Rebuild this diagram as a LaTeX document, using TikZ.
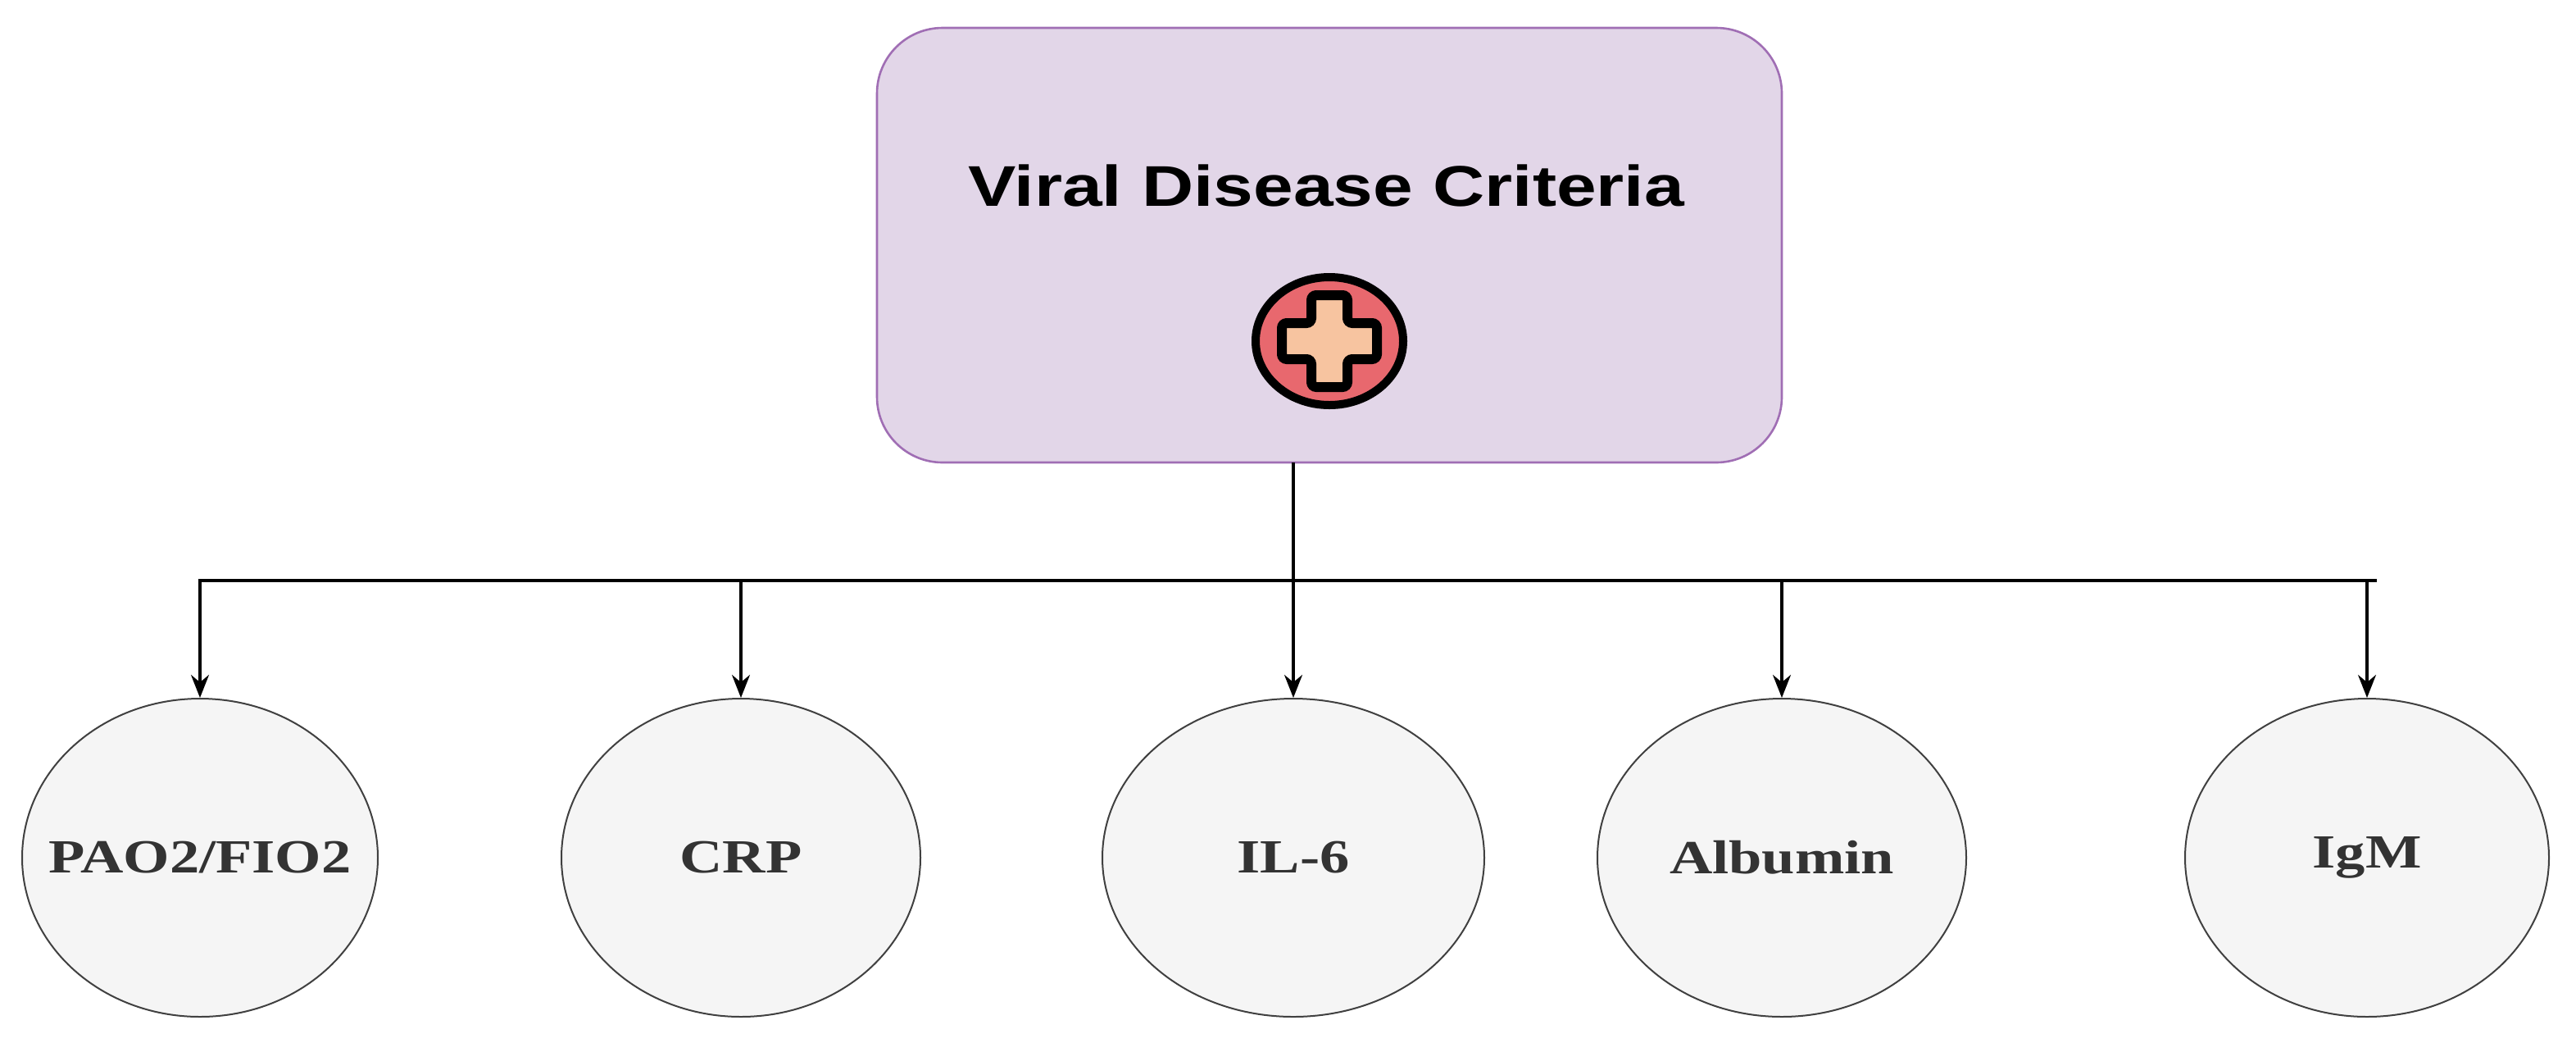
\documentclass[tikz,border=0pt]{standalone}
\usepackage{fontspec}
\setmainfont{Liberation Serif}
\newfontfamily\sansf{Liberation Sans}
\usetikzlibrary{arrows.meta,shapes.geometric}
\newcommand{\wide}[1]{\makebox[0pt]{\scalebox{1.25}[1]{#1}}}
\begin{document}
\begin{tikzpicture}[x=1pt,y=1pt,
  leaf/.style={ellipse,draw=black!75,line width=1pt,fill=black!4,minimum width=#1,minimum height=194pt,inner sep=0pt,font=\fontsize{29}{32}\selectfont\bfseries,text=black!80},
  arr/.style={-{Stealth[length=14pt,width=11pt]},line width=1.6pt}]
\useasboundingbox (0,0) rectangle (1571.5,-635.5);
\node[draw={rgb,255:red,160;green,110;blue,180},line width=1.3pt,fill={rgb,255:red,226;green,214;blue,232},rounded corners=40pt,minimum width=552pt,minimum height=265pt] (top) at (811,-149.5) {};
\node[font=\sansf\fontsize{35}{40}\selectfont\bfseries] (title) at (809,-113) {\wide{Viral Disease Criteria}};
\node[ellipse,draw=black,line width=5pt,fill={rgb,255:red,232;green,104;blue,110},minimum width=90pt,minimum height=78pt,inner sep=0pt] (icon) at (811,-208) {};
\draw[line width=6pt,fill={rgb,255:red,247;green,196;blue,160},rounded corners=3pt]
 (800,-180)--(822,-180)--(822,-197)--(840,-197)--(840,-219)--(822,-219)--(822,-236)--(800,-236)--(800,-219)--(782,-219)--(782,-197)--(800,-197)--cycle;
\node[leaf=217pt] (e1) at (122,-523) {\wide{PAO2/FIO2}};
\node[leaf=219pt] (e2) at (452,-523) {\wide{CRP}};
\node[leaf=233pt] (e3) at (789,-523) {\wide{IL-6}};
\node[leaf=225pt] (e4) at (1087,-523) {\wide{Albumin}};
\node[leaf=222pt] (e5) at (1444,-523) {\wide{IgM}};
\coordinate (hl) at (121,-354);
\coordinate (hr) at (1450,-354);
\draw[line width=1.6pt] (hl)--(hr);
\draw[arr] (789,-282)--(e3.north);
\foreach \e in {e1,e2,e4,e5}{\draw[arr] (\e.north|-hl)--(\e.north);}
\end{tikzpicture}
\end{document}
